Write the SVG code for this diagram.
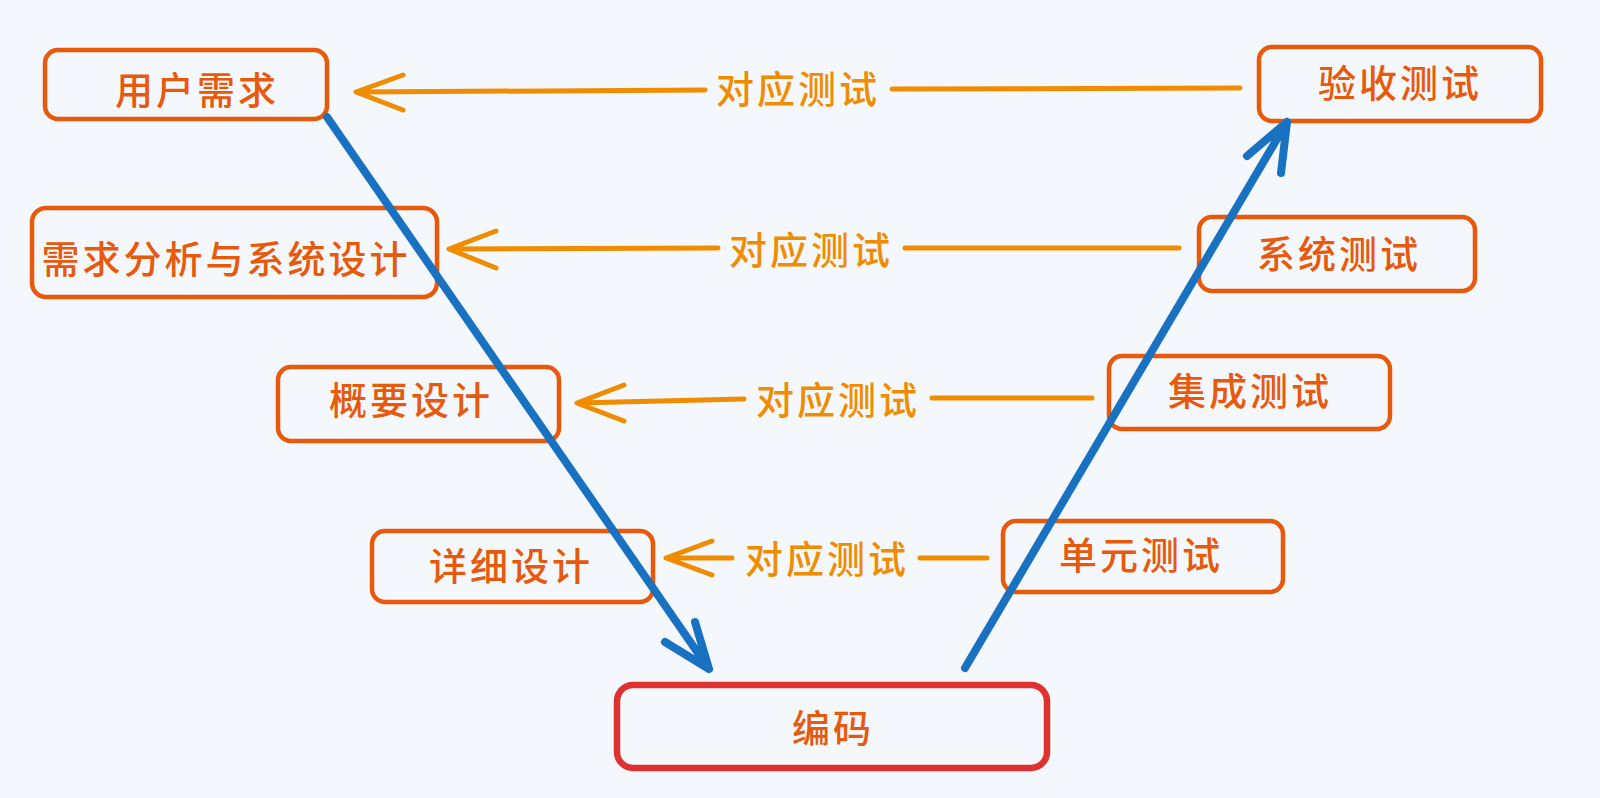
<svg xmlns="http://www.w3.org/2000/svg" width="1600" height="798" viewBox="0 0 1600 798">
<style>
.bg{fill:#f4f8fc}
.box{fill:none;stroke:#e8590c;stroke-width:4.5;stroke-linejoin:round}
.box.red{stroke:#e03131;stroke-width:6.5}
.nt{font-family:"Noto Sans CJK SC","Noto Sans",sans-serif;font-size:38px;font-weight:500;fill:#e8590c;text-anchor:middle;dominant-baseline:central;letter-spacing:3px}
.lt{font-family:"Noto Sans CJK SC","Noto Sans",sans-serif;font-size:38px;font-weight:500;fill:#f08c00;text-anchor:middle;dominant-baseline:central;letter-spacing:3px}
.oa{fill:none;stroke:#f08c00;stroke-width:5;stroke-linecap:round;stroke-linejoin:round}
.ba{fill:none;stroke:#1971c2;stroke-width:8;stroke-linecap:round;stroke-linejoin:round}
</style>
<rect class="bg" x="0" y="0" width="1600" height="798"/>

<g id="n-yonghu">
  <rect class="box" x="45" y="50" width="282" height="69" rx="13"/>
  <text class="nt" x="197" y="87">用户需求</text>
</g>
<g id="n-xuqiu">
  <rect class="box" x="32" y="208" width="405" height="89" rx="14"/>
  <text class="nt" x="226" y="256">需求分析与系统设计</text>
</g>
<g id="n-gaiyao">
  <rect class="box" x="278" y="367" width="281" height="74" rx="13"/>
  <text class="nt" x="411" y="397">概要设计</text>
</g>
<g id="n-xiangxi">
  <rect class="box" x="372" y="531" width="281" height="71" rx="13"/>
  <text class="nt" x="511" y="563">详细设计</text>
</g>
<g id="n-bianma">
  <rect class="box red" x="617" y="685" width="430" height="83" rx="16"/>
  <text class="nt" x="833" y="725">编码</text>
</g>
<g id="n-danyuan">
  <rect class="box" x="1003" y="521" width="280" height="71" rx="13"/>
  <text class="nt" x="1141" y="552">单元测试</text>
</g>
<g id="n-jicheng">
  <rect class="box" x="1109" y="356" width="281" height="73" rx="13"/>
  <text class="nt" x="1250" y="388">集成测试</text>
</g>
<g id="n-xitong">
  <rect class="box" x="1199" y="217" width="276" height="74" rx="13"/>
  <text class="nt" x="1339" y="251">系统测试</text>
</g>
<g id="n-yanshou">
  <rect class="box" x="1259" y="47" width="282" height="74" rx="13"/>
  <text class="nt" x="1400" y="80">验收测试</text>
</g>

<g id="connectors">
  <!-- row 1 -->
  <path class="oa" d="M1240 88 L892 89 M705 90 L357 92 M403 75 L356 92 L403 110"/>
  <text class="lt" x="798" y="86">对应测试</text>
  <!-- row 2 -->
  <path class="oa" d="M1179 248 L905 248 M718 248 L449 249 M496 231 L449 249 L496 268"/>
  <text class="lt" x="811" y="247">对应测试</text>
  <!-- row 3 -->
  <path class="oa" d="M1092 398 L932 398 M744 399 L577 403 M624 385 L577 403 L624 421"/>
  <text class="lt" x="838" y="397">对应测试</text>
  <!-- row 4 -->
  <path class="oa" d="M987 558 L920 558 M732 558 L666 558 M712 541 L666 558 L712 575"/>
  <text class="lt" x="827" y="556">对应测试</text>
  <!-- blue down -->
  <path class="ba" d="M327 117 L709 669 M695 622 L709 669 L665 642"/>
  <!-- blue up -->
  <path class="ba" d="M965 668 L1287 122 M1247 156 L1287 122 L1281 173"/>
</g>
</svg>
